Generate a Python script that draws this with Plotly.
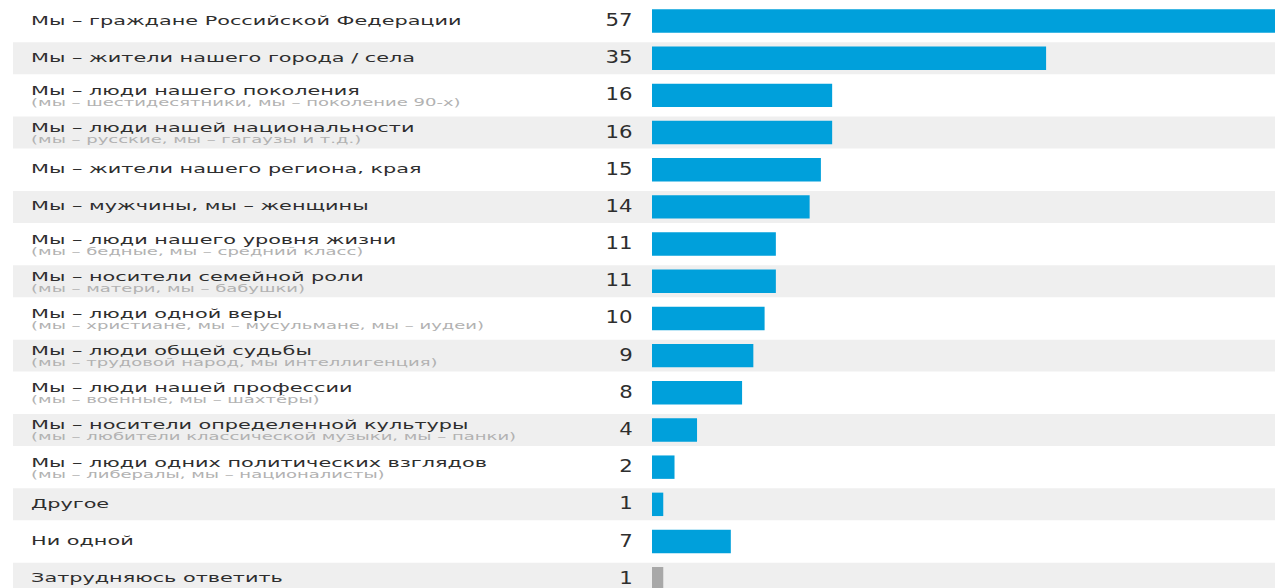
import json
import plotly.graph_objects as go

labels = [
    "Мы – граждане Российской Федерации",
    "Мы – жители нашего города / села",
    "Мы – люди нашего поколения",
    "Мы – люди нашей национальности",
    "Мы – жители нашего региона, края",
    "Мы – мужчины, мы – женщины",
    "Мы – люди нашего уровня жизни",
    "Мы – носители семейной роли",
    "Мы – люди одной веры",
    "Мы – люди общей судьбы",
    "Мы – люди нашей профессии",
    "Мы – носители определенной культуры",
    "Мы – люди одних политических взглядов",
    "Другое",
    "Ни одной",
    "Затрудняюсь ответить",
]
sublabels = [
    "",
    "",
    "(мы – шестидесятники, мы – поколение 90-х)",
    "(мы – русские, мы – гагаузы и т.д.)",
    "",
    "",
    "(мы – бедные, мы – средний класс)",
    "(мы – матери, мы – бабушки)",
    "(мы – христиане, мы – мусульмане, мы – иудеи)",
    "(мы – трудовой народ, мы интеллигенция)",
    "(мы – военные, мы – шахтёры)",
    "(мы – любители классической музыки, мы – панки)",
    "(мы – либералы, мы – националисты)",
    "",
    "",
    "",
]
values = [57, 35, 16, 16, 15, 14, 11, 11, 10, 9, 8, 4, 2, 1, 7, 1]

BLUE = "#00a0db"
GREY_BAR = "#a8a8a8"
BAND = "#efefef"
FONT = "DejaVu Sans"

W, H = 1275, 588
n = len(values)
rows = list(range(n))
colors = [BLUE] * (n - 1) + [GREY_BAR]

fig = go.Figure(
    go.Bar(
        x=values,
        y=rows,
        orientation="h",
        marker=dict(color=colors, line=dict(width=0)),
        hoverinfo="skip",
    )
)

shapes = []
annotations = []
# horizontal stretch per annotation: (scale, origin)
stretch = []
for i in rows:
    if i % 2 == 1:
        shapes.append(dict(
            type="rect", xref="paper", yref="y",
            x0=13 / W, x1=1, y0=i - 0.43, y1=i + 0.43,
            fillcolor=BAND, line=dict(width=0), layer="below",
        ))
    has_sub = bool(sublabels[i])
    annotations.append(dict(
        x=29 / W, y=i, xref="paper", yref="y",
        text=labels[i], showarrow=False, xanchor="left", yanchor="middle",
        yshift=5 if has_sub else 1,
        font=dict(family=FONT, size=13, color="#2e2e2e"),
    ))
    stretch.append([1.6, "left"])
    if has_sub:
        annotations.append(dict(
            x=29 / W, y=i, xref="paper", yref="y",
            text=sublabels[i], showarrow=False, xanchor="left", yanchor="middle",
            yshift=-7,
            font=dict(family=FONT, size=10, color="#b2b2b2"),
        ))
        stretch.append([1.8, "left"])
    annotations.append(dict(
        x=635 / W, y=i, xref="paper", yref="y",
        text=str(values[i]), showarrow=False, xanchor="right", yanchor="middle",
        yshift=1,
        font=dict(family=FONT, size=17, color="#2e2e2e"),
    ))
    stretch.append([1.25, "right"])

row_px = 37.18
top_px = 21.0
x_start = 652 / W
px_per_unit = 11.26

fig.update_layout(
    width=W, height=H,
    margin=dict(l=0, r=0, t=0, b=0),
    paper_bgcolor="white", plot_bgcolor="rgba(0,0,0,0)",
    showlegend=False,
    bargap=0.37,
    shapes=shapes,
    annotations=annotations,
    xaxis=dict(
        domain=[x_start, 1],
        range=[0, (W - 652) / px_per_unit],
        visible=False, fixedrange=True,
    ),
    yaxis=dict(
        range=[(H - top_px) / row_px, -top_px / row_px],
        visible=False, fixedrange=True,
    ),
)

# widen the label glyphs horizontally (wide lettering of the original layout)
post = """
var gd = document.getElementById('{plot_id}');
var st = %s;
gd.querySelectorAll('g.annotation').forEach(function(g) {
  var k = +g.getAttribute('data-index');
  var t = g.querySelector('text.annotation-text');
  if (!t || !st[k]) return;
  t.style.transformBox = 'fill-box';
  t.style.transformOrigin = st[k][1] + ' center';
  t.style.transform = 'scaleX(' + st[k][0] + ')';
});
""" % json.dumps(stretch)

fig.write_html("out.html", config={"displayModeBar": False}, post_script=post)
